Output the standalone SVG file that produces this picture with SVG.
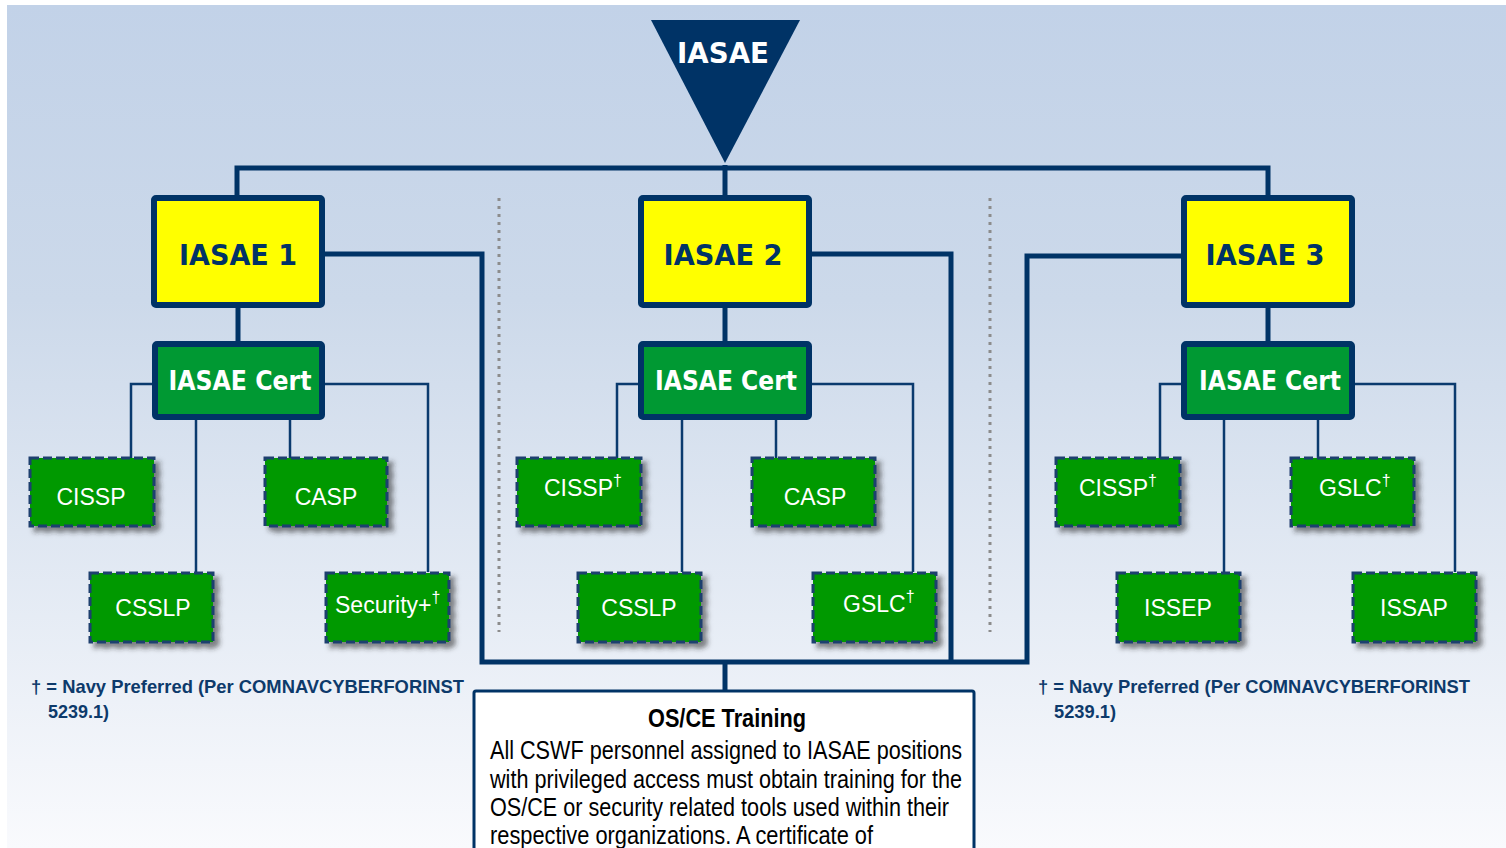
<svg xmlns="http://www.w3.org/2000/svg" width="1506" height="848" viewBox="0 0 1506 848">
<defs>
<linearGradient id="bg" x1="0" y1="0" x2="0" y2="1">
<stop offset="0" stop-color="#c2d2e8"/>
<stop offset="0.35" stop-color="#ccd9ea"/>
<stop offset="1" stop-color="#f9fafd"/>
</linearGradient>
<filter id="sh" x="-20%" y="-20%" width="150%" height="150%">
<feDropShadow dx="5" dy="5" stdDeviation="2.5" flood-color="#2a2a2a" flood-opacity="0.55"/>
</filter>
<style>
.lv{fill:#ffff00;stroke:#003366;stroke-width:6}
.ct{fill:#009933;stroke:#003366;stroke-width:6}
.cb{fill:#009900;stroke:#1f3f6e;stroke-width:3;stroke-dasharray:9 4;filter:url(#sh)}
.h{font-family:"DejaVu Sans",Verdana,sans-serif;font-weight:bold;text-anchor:middle}
.ht{fill:#003366;font-size:29px}
.wt{fill:#ffffff;font-size:27px}
.c{font-family:"Liberation Sans",Arial,sans-serif;fill:#ffffff;font-size:23px}
.m{text-anchor:middle}
.d{font-size:16px}
.thick{fill:none;stroke:#003366;stroke-width:5}
.thin{fill:none;stroke:#0a3a6e;stroke-width:2.5}
.dot{stroke:#8c8c8c;stroke-width:3;stroke-dasharray:3 5}
.fn{font-family:"Liberation Sans Narrow","Liberation Sans",Arial,sans-serif;fill:#0d3a6b;font-size:19px;font-weight:bold}
.bt{font-family:"Liberation Sans Narrow","Liberation Sans",Arial,sans-serif;fill:#000000;font-size:25px}
</style>
</defs>
<rect x="0" y="0" width="1506" height="848" fill="#ffffff"/>
<rect x="7" y="5" width="1499" height="843" fill="url(#bg)"/>

<g id="dividers">
<line class="dot" x1="499" y1="198" x2="499" y2="632"/>
<line class="dot" x1="990" y1="198" x2="990" y2="632"/>
</g>

<g id="connectors">
<path class="thick" d="M237,198 V168 H1268 V198"/>
<path class="thick" d="M725,165 V198"/>
<path class="thick" d="M238,306 V343"/>
<path class="thick" d="M725,306 V343"/>
<path class="thick" d="M1268,306 V343"/>
<path class="thick" d="M325,254 H482 V662 H1027 V256 H1182"/>
<path class="thick" d="M811,254 H951 V662"/>
<path class="thick" d="M725,662 V691"/>
<path class="thin" d="M153,384 H131 V458"/>
<path class="thin" d="M324,384 H428 V572"/>
<path class="thin" d="M196,419 V572"/>
<path class="thin" d="M290,419 V458"/>
<path class="thin" d="M639,384 H617 V458"/>
<path class="thin" d="M811,384 H913 V572"/>
<path class="thin" d="M682,419 V572"/>
<path class="thin" d="M776,419 V458"/>
<path class="thin" d="M1182,384 H1160 V458"/>
<path class="thin" d="M1354,384 H1455 V572"/>
<path class="thin" d="M1224,419 V572"/>
<path class="thin" d="M1318,419 V458"/>
</g>

<g id="iasae">
<polygon points="651,20 800,20 725,163" fill="#003366"/>
<text class="h" x="723" y="63" fill="#ffffff" font-size="28" textLength="92" lengthAdjust="spacingAndGlyphs">IASAE</text>
</g>

<g id="iasae1">
<rect class="lv" x="154" y="198" width="168" height="107" rx="2"/>
<text class="h ht" x="238" y="265" textLength="118" lengthAdjust="spacingAndGlyphs">IASAE 1</text>
</g>
<g id="iasae2">
<rect class="lv" x="641" y="198" width="168" height="107" rx="2"/>
<text class="h ht" x="723" y="265" textLength="119" lengthAdjust="spacingAndGlyphs">IASAE 2</text>
</g>
<g id="iasae3">
<rect class="lv" x="1184" y="198" width="168" height="107" rx="2"/>
<text class="h ht" x="1265" y="265" textLength="119" lengthAdjust="spacingAndGlyphs">IASAE 3</text>
</g>

<g id="cert1">
<rect class="ct" x="155" y="344" width="167" height="73" rx="2"/>
<text class="h wt" x="240" y="390" textLength="143" lengthAdjust="spacingAndGlyphs">IASAE Cert</text>
</g>
<g id="cert2">
<rect class="ct" x="641" y="344" width="168" height="73" rx="2"/>
<text class="h wt" x="726" y="390" textLength="142" lengthAdjust="spacingAndGlyphs">IASAE Cert</text>
</g>
<g id="cert3">
<rect class="ct" x="1184" y="344" width="168" height="73" rx="2"/>
<text class="h wt" x="1270" y="390" textLength="142" lengthAdjust="spacingAndGlyphs">IASAE Cert</text>
</g>

<g id="c1-cissp">
<rect class="cb" x="30" y="458" width="124" height="68"/>
<text class="c m" x="91" y="505">CISSP</text>
</g>
<g id="c1-casp">
<rect class="cb" x="265" y="458" width="122" height="68"/>
<text class="c m" x="326" y="505">CASP</text>
</g>
<g id="c1-csslp">
<rect class="cb" x="90" y="573" width="123" height="69"/>
<text class="c m" x="153" y="616">CSSLP</text>
</g>
<g id="c1-secplus">
<rect class="cb" x="326" y="573" width="123" height="69"/>
<text class="c" x="335" y="613">Security+<tspan class="d" dy="-10">†</tspan></text>
</g>

<g id="c2-cissp">
<rect class="cb" x="517" y="458" width="124" height="68"/>
<text class="c" x="544" y="496">CISSP<tspan class="d" dy="-10">†</tspan></text>
</g>
<g id="c2-casp">
<rect class="cb" x="752" y="458" width="123" height="68"/>
<text class="c m" x="815" y="505">CASP</text>
</g>
<g id="c2-csslp">
<rect class="cb" x="578" y="573" width="123" height="69"/>
<text class="c m" x="639" y="616">CSSLP</text>
</g>
<g id="c2-gslc">
<rect class="cb" x="813" y="573" width="123" height="69"/>
<text class="c" x="843" y="612">GSLC<tspan class="d" dy="-10">†</tspan></text>
</g>

<g id="c3-cissp">
<rect class="cb" x="1056" y="458" width="124" height="68"/>
<text class="c" x="1079" y="496">CISSP<tspan class="d" dy="-10">†</tspan></text>
</g>
<g id="c3-gslc">
<rect class="cb" x="1291" y="458" width="123" height="68"/>
<text class="c" x="1319" y="496">GSLC<tspan class="d" dy="-10">†</tspan></text>
</g>
<g id="c3-issep">
<rect class="cb" x="1117" y="573" width="123" height="69"/>
<text class="c m" x="1178" y="616">ISSEP</text>
</g>
<g id="c3-issap">
<rect class="cb" x="1353" y="573" width="123" height="69"/>
<text class="c m" x="1414" y="616">ISSAP</text>
</g>

<g id="note-left">
<text class="fn" x="31" y="693" textLength="433" lengthAdjust="spacingAndGlyphs">† = Navy Preferred (Per COMNAVCYBERFORINST</text>
<text class="fn" x="48" y="718" textLength="61" lengthAdjust="spacingAndGlyphs">5239.1)</text>
</g>
<g id="note-right">
<text class="fn" x="1038" y="693" textLength="432" lengthAdjust="spacingAndGlyphs">† = Navy Preferred (Per COMNAVCYBERFORINST</text>
<text class="fn" x="1054" y="718" textLength="62" lengthAdjust="spacingAndGlyphs">5239.1)</text>
</g>

<g id="osce">
<rect x="474" y="691" width="500" height="170" fill="#ffffff" stroke="#003366" stroke-width="3" rx="2"/>
<text class="bt" x="648" y="727" font-weight="bold" textLength="158" lengthAdjust="spacingAndGlyphs">OS/CE Training</text>
<text class="bt" x="490" y="759" textLength="472" lengthAdjust="spacingAndGlyphs">All CSWF personnel assigned to IASAE positions</text>
<text class="bt" x="490" y="788" textLength="472" lengthAdjust="spacingAndGlyphs">with privileged access must obtain training for the</text>
<text class="bt" x="490" y="816" textLength="459" lengthAdjust="spacingAndGlyphs">OS/CE or security related tools used within their</text>
<text class="bt" x="490" y="844" textLength="383" lengthAdjust="spacingAndGlyphs">respective organizations. A certificate of</text>
</g>
</svg>
